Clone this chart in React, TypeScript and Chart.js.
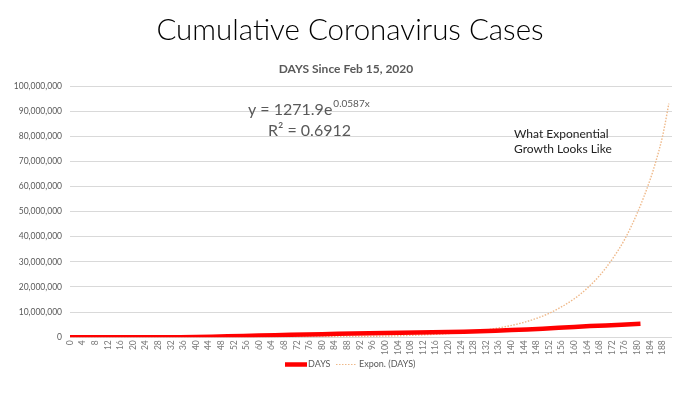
import React, { useEffect, useRef } from "react";
import { Chart, registerables } from "chart.js";

Chart.register(...registerables);

const TITLE = "Cumulative Coronavirus Cases";
const SUBTITLE = "DAYS Since Feb 15, 2020";

// Observed cumulative cases (day since Feb 15, 2020 -> cases)
const caseDays = [0, 14, 28, 35, 40, 45, 50, 55, 60, 65, 70, 75, 80, 85, 90, 95, 100, 105, 110, 115, 120, 125, 130, 135, 140, 145, 150, 155, 160, 165, 170, 175, 181];
const caseValues = [15, 70, 2700, 25000, 85000, 188000, 337000, 496000, 636000, 784000, 939000, 1069000, 1204000, 1329000, 1443000, 1551000, 1662000, 1770000, 1872000, 1980000, 2090000, 2220000, 2380000, 2590000, 2840000, 3100000, 3410000, 3770000, 4110000, 4430000, 4710000, 5000000, 5400000];

// Exponential trendline
const trendDays = [0, 20, 40, 60, 80, 100, 110, 120, 128, 136, 144, 152, 160, 164, 168, 172, 176, 180, 184, 186, 188, 190];
const trendValues = [1300, 4100, 13000, 43000, 140000, 450000, 830000, 1460000, 2300000, 3700000, 5900000, 9500000, 15300000, 19400000, 24500000, 31000000, 39000000, 49500000, 62500000, 70500000, 80000000, 93000000];

const SERIES_NAMES = ["DAYS", "Expon. (DAYS)"];
const EQUATION_MAIN = "y = 1271.9e";
const EQUATION_EXP = "0.0587x";
const R2_TEXT = "R\u00B2 = 0.6912";
const NOTE_LINES = ["What Exponential", "Growth Looks Like"];

const FONT = "Lato, 'Open Sans', sans-serif";
const GRAY = "#595959";
const RED = "#ff0000";
const TREND = "#efb98a";

const textPlugin = {
  id: "textPlugin",
  afterDraw(chart: any) {
    const ctx = chart.ctx;
    ctx.save();
    ctx.textBaseline = "alphabetic";
    // title
    ctx.fillStyle = "#000";
    ctx.textAlign = "center";
    ctx.font = `300 29.5px ${FONT}`;
    ctx.fillText(TITLE, 350, 40);
    ctx.fillStyle = GRAY;
    ctx.font = `bold 12px ${FONT}`;
    ctx.fillText(SUBTITLE, 346, 73);
    // equation
    ctx.textAlign = "left";
    ctx.font = `16px ${FONT}`;
    ctx.fillText(EQUATION_MAIN, 248, 115);
    const w = ctx.measureText(EQUATION_MAIN).width;
    ctx.font = `10px ${FONT}`;
    ctx.fillText(EQUATION_EXP, 248 + w + 1, 107);
    ctx.font = `16px ${FONT}`;
    ctx.fillText(R2_TEXT, 268, 136);
    // note
    ctx.fillStyle = "#222";
    ctx.font = `12px ${FONT}`;
    ctx.fillText(NOTE_LINES[0], 514, 138);
    ctx.fillText(NOTE_LINES[1], 514, 153);
    // legend
    const ly = 364.5;
    ctx.lineCap = "butt";
    ctx.strokeStyle = RED;
    ctx.lineWidth = 4.5;
    ctx.setLineDash([]);
    ctx.beginPath();
    ctx.moveTo(285, ly);
    ctx.lineTo(307, ly);
    ctx.stroke();
    ctx.strokeStyle = TREND;
    ctx.lineWidth = 1.2;
    ctx.setLineDash([1.5, 1.5]);
    ctx.beginPath();
    ctx.moveTo(336, ly);
    ctx.lineTo(357, ly);
    ctx.stroke();
    ctx.setLineDash([]);
    ctx.fillStyle = GRAY;
    ctx.font = `9px ${FONT}`;
    ctx.textBaseline = "middle";
    ctx.fillText(SERIES_NAMES[0], 308, ly);
    ctx.fillText(SERIES_NAMES[1], 359, ly);
    ctx.restore();
  },
};

export default function App() {
  const ref = useRef<HTMLCanvasElement | null>(null);
  useEffect(() => {
    const chart = new Chart(ref.current as HTMLCanvasElement, {
      type: "line",
      data: {
        datasets: [
          {
            label: SERIES_NAMES[0],
            data: caseDays.map((d, i) => ({ x: d, y: caseValues[i] })),
            borderColor: RED,
            backgroundColor: RED,
            borderWidth: 4.5,
            pointRadius: 0,
            tension: 0,
            order: 1,
          },
          {
            label: SERIES_NAMES[1],
            data: trendDays.map((d, i) => ({ x: d, y: trendValues[i] })),
            borderColor: TREND,
            backgroundColor: TREND,
            borderWidth: 1.4,
            borderDash: [1.5, 1.5],
            pointRadius: 0,
            cubicInterpolationMode: "monotone",
            order: 2,
          },
        ],
      },
      options: {
        responsive: false,
        animation: false,
        layout: { padding: { top: 86, right: 28, left: 0, bottom: 36 } },
        plugins: {
          title: { display: false },
          tooltip: { enabled: false },
          legend: { display: false },
        },
        scales: {
          x: {
            type: "linear",
            min: 0,
            max: 191,
            grid: { display: false, drawTicks: false },
            border: { display: false },
            ticks: {
              stepSize: 4,
              includeBounds: false,
              autoSkip: false,
              maxRotation: 90,
              minRotation: 90,
              padding: 3,
              color: "#7a7a7a",
              font: { family: FONT, size: 8.5 },
              callback: (v: any) => String(v),
            },
          },
          y: {
            min: 0,
            max: 100000000,
            border: { display: false },
            grid: { color: "#d9d9d9", drawTicks: false },
            ticks: {
              stepSize: 10000000,
              padding: 8,
              color: GRAY,
              font: { family: FONT, size: 8.5 },
              callback: (v: any) => Number(v).toLocaleString("en-US"),
            },
            afterFit: (s: any) => {
              s.width = 70;
            },
          },
        },
      } as any,
      plugins: [textPlugin],
    });
    return () => chart.destroy();
  }, []);
  return (
    <div style={{ position: "fixed", left: 0, top: 0, width: 700, height: 394, background: "#fff" }}>
      <canvas ref={ref} width={700} height={394} />
    </div>
  );
}
